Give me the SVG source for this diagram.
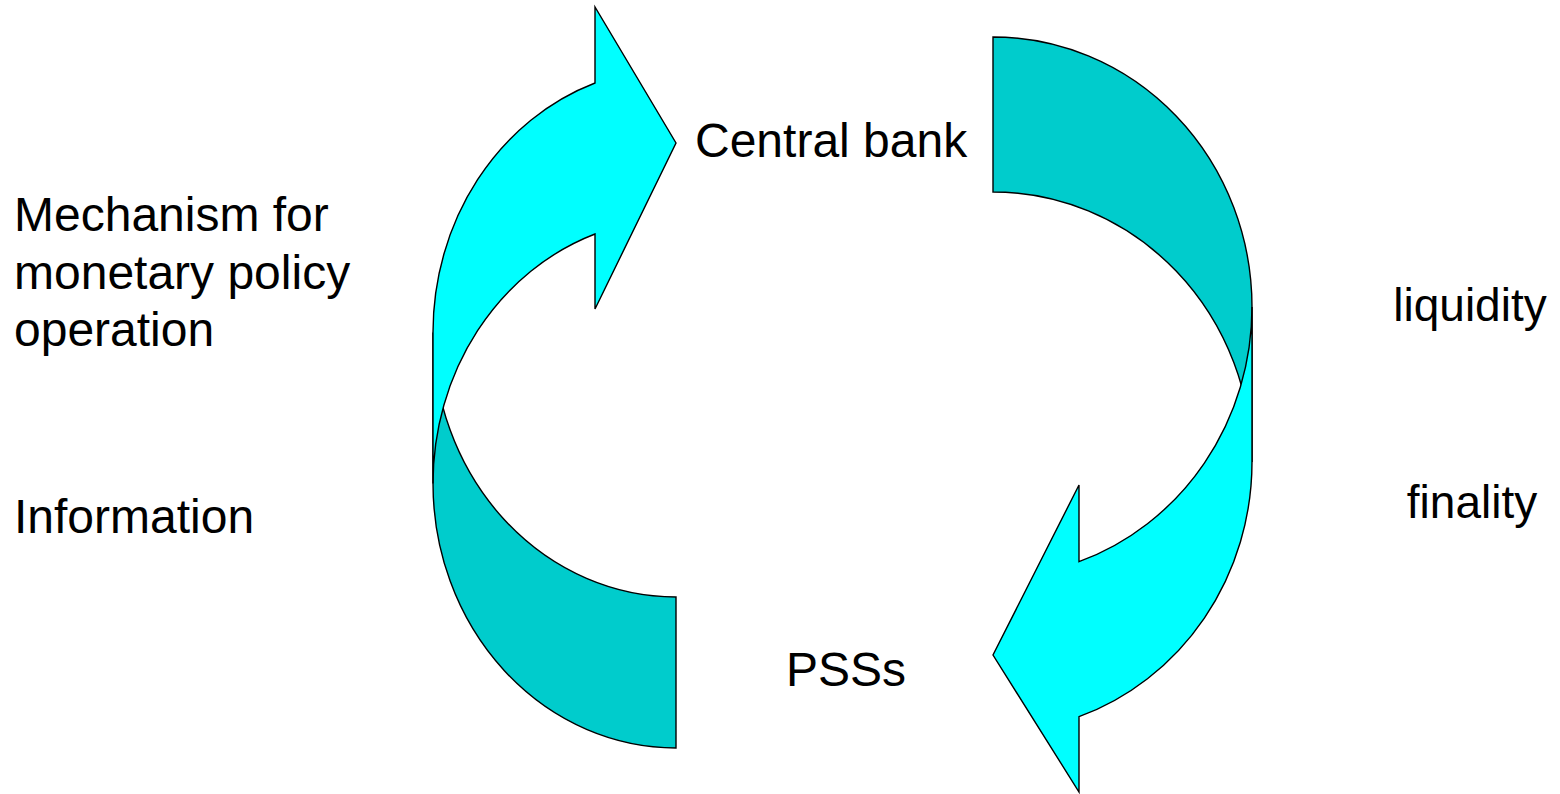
<svg xmlns="http://www.w3.org/2000/svg" width="1560" height="794" viewBox="0 0 1560 794">
  <style>
    .front { fill: #00FFFF; stroke: #000000; stroke-width: 1.4; stroke-linejoin: miter; }
    .back { fill: #00CCCC; stroke: #000000; stroke-width: 1.4; stroke-linejoin: miter; }
    .lbl { font-family: "Liberation Sans", Arial, sans-serif; font-size: 48px; fill: #000000; }
    .sm { font-size: 46px; }
  </style>
  <rect x="0" y="0" width="1560" height="794" fill="#FFFFFF"/>
  <g id="arrow-left">
    <path class="back" d="M 433 332.5 A 243 264.5 0 0 0 676 597 L 676 748 A 243 264.5 0 0 1 433 483.5 Z"/>
    <path class="front" d="M 433 483.5 L 433 332.5 A 243 264.5 0 0 1 595 83 L 595 7 L 676 143 L 595 309 L 595 234 A 243 264.5 0 0 0 433 483.5 Z"/>
  </g>
  <g id="arrow-right">
    <path class="back" d="M 993 37 A 259 270 0 0 1 1252 307 L 1252 462 A 259 270 0 0 0 993 192 Z"/>
    <path class="front" d="M 1252 307 L 1252 462 A 259 270 0 0 1 1079 716.7 L 1079 792 L 993 655 L 1079 485 L 1079 561.7 A 259 270 0 0 0 1252 307 Z"/>
  </g>
  <g id="connectors"></g>
  <g id="node-central-bank"><text class="lbl" x="695" y="157">Central bank</text></g>
  <g id="node-psss"><text class="lbl" x="846" y="686" text-anchor="middle">PSSs</text></g>
  <g id="label-mechanism">
    <text class="lbl" x="14" y="231">Mechanism for</text>
    <text class="lbl" x="14" y="289">monetary policy</text>
    <text class="lbl" x="14" y="346">operation</text>
  </g>
  <g id="label-information"><text class="lbl" x="14" y="533">Information</text></g>
  <g id="label-liquidity"><text class="lbl sm" x="1470" y="321" text-anchor="middle">liquidity</text></g>
  <g id="label-finality"><text class="lbl sm" x="1472" y="518" text-anchor="middle">finality</text></g>
</svg>
